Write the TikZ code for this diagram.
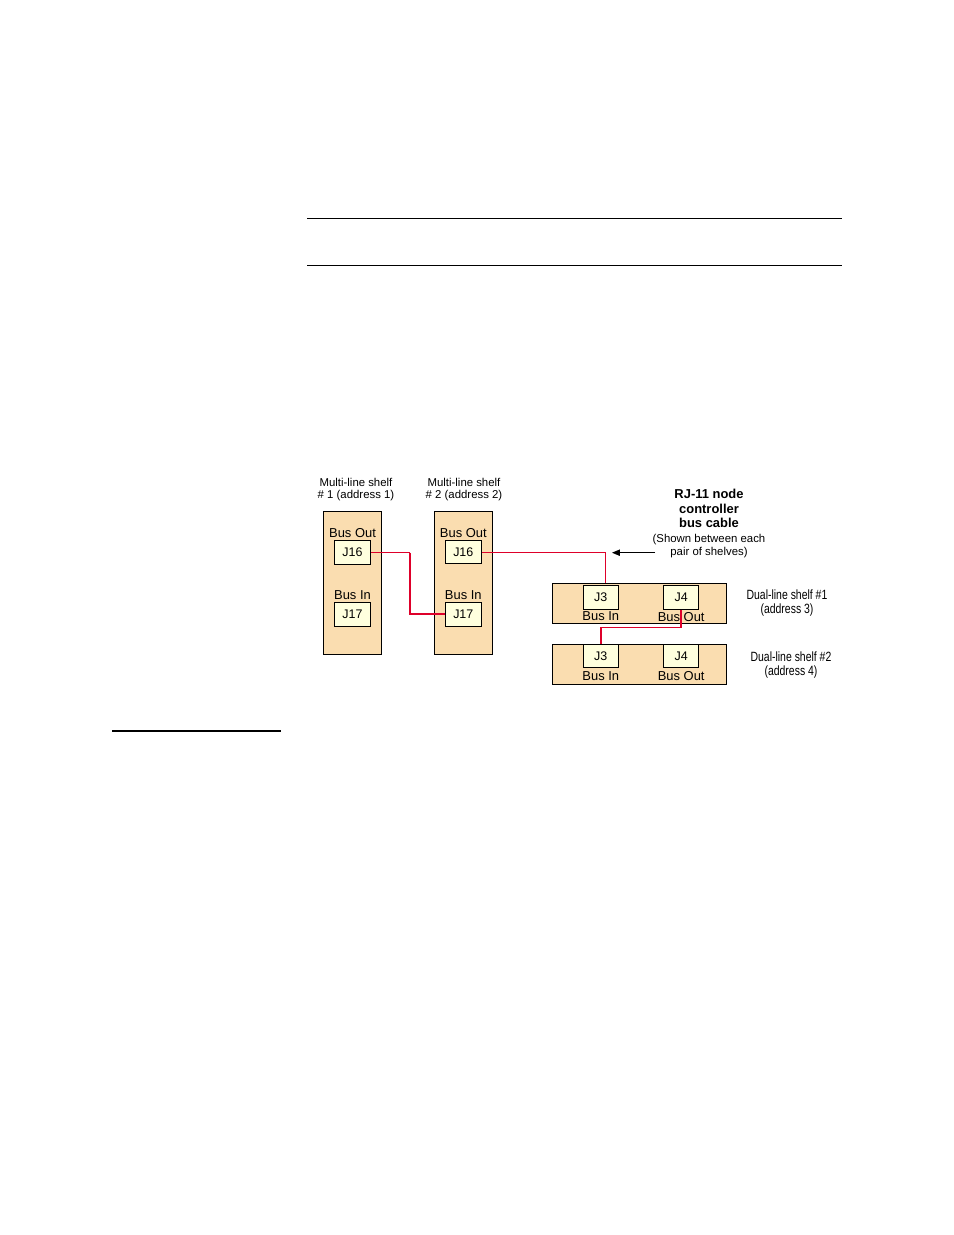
\documentclass[tikz,border=0pt]{standalone}
\usepackage{fontspec}
\setmainfont{Liberation Sans}
\newfontfamily\narrowsans[FakeStretch=0.78]{Liberation Sans}
\usetikzlibrary{positioning,arrows.meta}
\definecolor{shelftan}{RGB}{250,221,176}
\definecolor{jackcream}{RGB}{255,255,222}
\definecolor{cablered}{RGB}{222,0,42}
\newcommand{\pxu}{0.6415pt}
\tikzset{
    shelf/.style={draw, fill=shelftan, line width=0.6pt, inner sep=0pt},
    jack/.style={draw, fill=jackcream, line width=0.6pt, inner sep=0pt,
        minimum width=36*\pxu, minimum height=23.5*\pxu, font=\fontsize{8}{9}\selectfont},
    buslabel/.style={inner sep=0pt, font=\fontsize{8.3}{9}\selectfont},
    caption/.style={align=center, inner sep=0pt, font=\fontsize{7.3}{7.7}\selectfont},
    dualcaption/.style={align=center, inner sep=0pt, font=\narrowsans\fontsize{8.6}{9.4}\selectfont},
    wire/.style={draw=cablered, line width=0.55pt},
}
\begin{document}
\begin{tikzpicture}[x=\pxu, y=-\pxu]
            \useasboundingbox (0,0) rectangle (954,1235);

            % page rules
            \draw [line width=0.6pt] (307,218) -- (842,218);
            \draw [line width=0.6pt] (307,265) -- (842,265);
            \draw [line width=1.4pt] (112,731) -- (281,731);

            % multi-line shelves
            \node[shelf, minimum width=58*\pxu, minimum height=142.5*\pxu] (mshelfA) at (352,583) {};
            \node[jack] (mshelfAjout) at (352.5,552.5) {J16};
            \node[jack] (mshelfAjin) at (352.5,614.7) {J17};
            \node[buslabel, above=1.6pt of mshelfAjout] (mshelfAout) {Bus Out};
            \node[buslabel, above=1.4pt of mshelfAjin] (mshelfAin) {Bus In};
            \node[caption] (mshelfAname) at (356,490) {Multi-line shelf\\\# 1 (address 1)};

            \node[shelf, minimum width=58*\pxu, minimum height=142.5*\pxu] (mshelfB) at (463.5,583) {};
            \node[jack] (mshelfBjout) at (463.3,552) {J16};
            \node[jack] (mshelfBjin) at (463.3,614.3) {J17};
            \node[buslabel, above=1.3pt of mshelfBjout] (mshelfBout) {Bus Out};
            \node[buslabel, above=1.6pt of mshelfBjin] (mshelfBin) {Bus In};
            \node[caption] (mshelfBname) at (464,490) {Multi-line shelf\\\# 2 (address 2)};

            % dual-line shelves
            \node[shelf, minimum width=174*\pxu, minimum height=40*\pxu] (dualA) at (639,603.3) {};
            \node[jack, minimum width=35*\pxu, minimum height=24*\pxu] (dualAjin) at (600.8,597.2) {J3};
            \node[jack, minimum width=35*\pxu, minimum height=24*\pxu] (dualAjout) at (681.2,597.2) {J4};
            \node[buslabel, below=1.3pt of dualAjin] (dualAin) {Bus In};
            \node[buslabel, below=1.3pt of dualAjout] (dualAout) {Bus Out};
            \node[dualcaption] (dualAname) at (787,603) {Dual-line shelf \#1\\(address 3)};

            \node[shelf, minimum width=174*\pxu, minimum height=40.3*\pxu] (dualB) at (639,664.2) {};
            \node[jack, minimum width=35*\pxu] (dualBjin) at (600.8,655.8) {J3};
            \node[jack, minimum width=35*\pxu] (dualBjout) at (681.2,655.8) {J4};
            \node[buslabel, below=2pt of dualBjin] (dualBin) {Bus In};
            \node[buslabel, below=2pt of dualBjout] (dualBout) {Bus Out};
            \node[dualcaption] (dualBname) at (791,665) {Dual-line shelf \#2\\(address 4)};

            % cable note
            \node[align=center, inner sep=0pt, font=\bfseries\fontsize{8.3}{9.3}\selectfont]
                (cablename) at (709,508.5) {RJ-11 node\\controller\\bus cable};
            \node[caption, font=\fontsize{7.3}{8.3}\selectfont, below=3.5pt of cablename]
                (cablenote) {(Shown between each\\pair of shelves)};

            % cables
            \coordinate (cableAbend) at (410,583);
            \coordinate (cableBdrop) at (605.7,583.3);
            \coordinate (cableCjog) at (600.8,627.3);
            \draw [wire] (mshelfAjout.east) -- (mshelfAjout.east -| cableAbend);
            \draw [wire, line width=1.3pt]
                (mshelfAjout.east -| cableAbend) |- (mshelfBjin.west);
            \draw [wire] (mshelfBjout.east) -| (cableBdrop);
            \draw [wire, line width=1pt] (dualAjout.south) |- (cableCjog) -- (dualBjin.north);

            \coordinate (pointertail) at (655,552.7);
            \coordinate (pointertip) at (612,552.7);
            \draw [-{Triangle[length=5pt,width=4pt]}, line width=0.6pt]
                (pointertail) -- (pointertip);

        \end{tikzpicture}
\end{document}
